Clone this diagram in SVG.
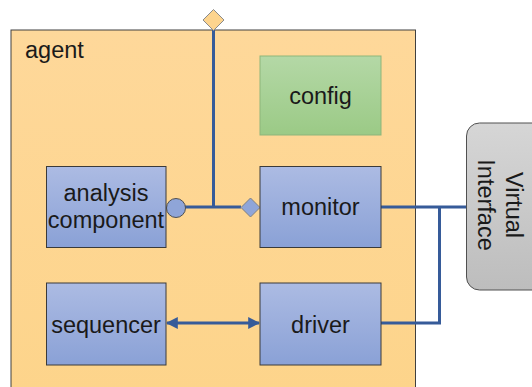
<svg xmlns="http://www.w3.org/2000/svg" width="532" height="387" viewBox="0 0 532 387">
<defs>
<linearGradient id="gBlue" x1="0" y1="0" x2="0" y2="1"><stop offset="0" stop-color="#ACBBE3"/><stop offset="1" stop-color="#8AA1D6"/></linearGradient>
<linearGradient id="gGreen" x1="0" y1="0" x2="0" y2="1"><stop offset="0" stop-color="#B4D8A6"/><stop offset="1" stop-color="#9BCA86"/></linearGradient>
<linearGradient id="gOrange" x1="0" y1="0" x2="0" y2="1"><stop offset="0" stop-color="#FED89A"/><stop offset="1" stop-color="#FDD48A"/></linearGradient>
<linearGradient id="gGray" x1="0" y1="0" x2="0" y2="1"><stop offset="0" stop-color="#D6D6D6"/><stop offset="1" stop-color="#BDBDBD"/></linearGradient>
<marker id="arr" viewBox="0 0 10 10" refX="9" refY="5" markerWidth="4" markerHeight="4" orient="auto-start-reverse" markerUnits="strokeWidth">
<path d="M0,0 L10,5 L0,10 Z" fill="#365B99"/>
</marker>
<style>
.t{font-family:"Liberation Sans",Arial,sans-serif;font-size:23.5px;fill:#1A1A1A}
.m{text-anchor:middle}
.blue{fill:url(#gBlue);stroke:#3A3A3A;stroke-width:1}
.ln{fill:none;stroke:#365B99;stroke-width:3}
</style>
</defs>
<g id="agent">
<rect x="11" y="30" width="404.5" height="380" fill="url(#gOrange)" stroke="#404040" stroke-width="1"/>
<text class="t" x="25" y="58">agent</text>
</g>
<g id="config">
<rect x="260" y="56" width="121" height="79" fill="url(#gGreen)" stroke="#8DB57A" stroke-width="1"/>
<text class="t m" x="320.5" y="103.5">config</text>
</g>
<g id="connectors">
<polyline class="ln" points="213.5,20 213.5,207"/>
<polyline class="ln" points="185,207 241,207"/>
<polyline class="ln" points="381,207 466,207"/>
<polyline class="ln" points="439.5,207 439.5,323 381,323"/>
<line class="ln" x1="167" y1="323" x2="259" y2="323" marker-start="url(#arr)" marker-end="url(#arr)"/>
<polygon points="213.5,9.5 224,20 213.5,30.5 203,20" fill="#FDD48E" stroke="#8A8A8A" stroke-width="1"/>
<circle cx="176" cy="208" r="9.5" fill="#8FA5D8" stroke="#505050" stroke-width="1"/>
<polygon points="250.5,198 260,207.5 250.5,217 241,207.5" fill="#8FA5D8" stroke="#808080" stroke-width="1"/>
</g>
<g id="analysis">
<rect class="blue" x="46.5" y="166.5" width="119.5" height="81"/>
<text class="t m" x="106" y="201">analysis</text>
<text class="t m" x="106" y="228">component</text>
</g>
<g id="monitor">
<rect class="blue" x="260" y="166.5" width="121" height="81"/>
<text class="t m" x="320.5" y="215">monitor</text>
</g>
<g id="sequencer">
<rect class="blue" x="46.5" y="283" width="119.5" height="82"/>
<text class="t m" x="106" y="333">sequencer</text>
</g>
<g id="driver">
<rect class="blue" x="260" y="283" width="121" height="82"/>
<text class="t m" x="320.5" y="333">driver</text>
</g>
<g id="vif">
<rect x="466.5" y="123" width="80" height="167" rx="13" ry="13" fill="url(#gGray)" stroke="#505050" stroke-width="1"/>
<text class="t m" transform="translate(506,205) rotate(90)" x="0" y="0">Virtual</text>
<text class="t m" transform="translate(477.5,205) rotate(90)" x="0" y="0">Interface</text>
</g>
</svg>
